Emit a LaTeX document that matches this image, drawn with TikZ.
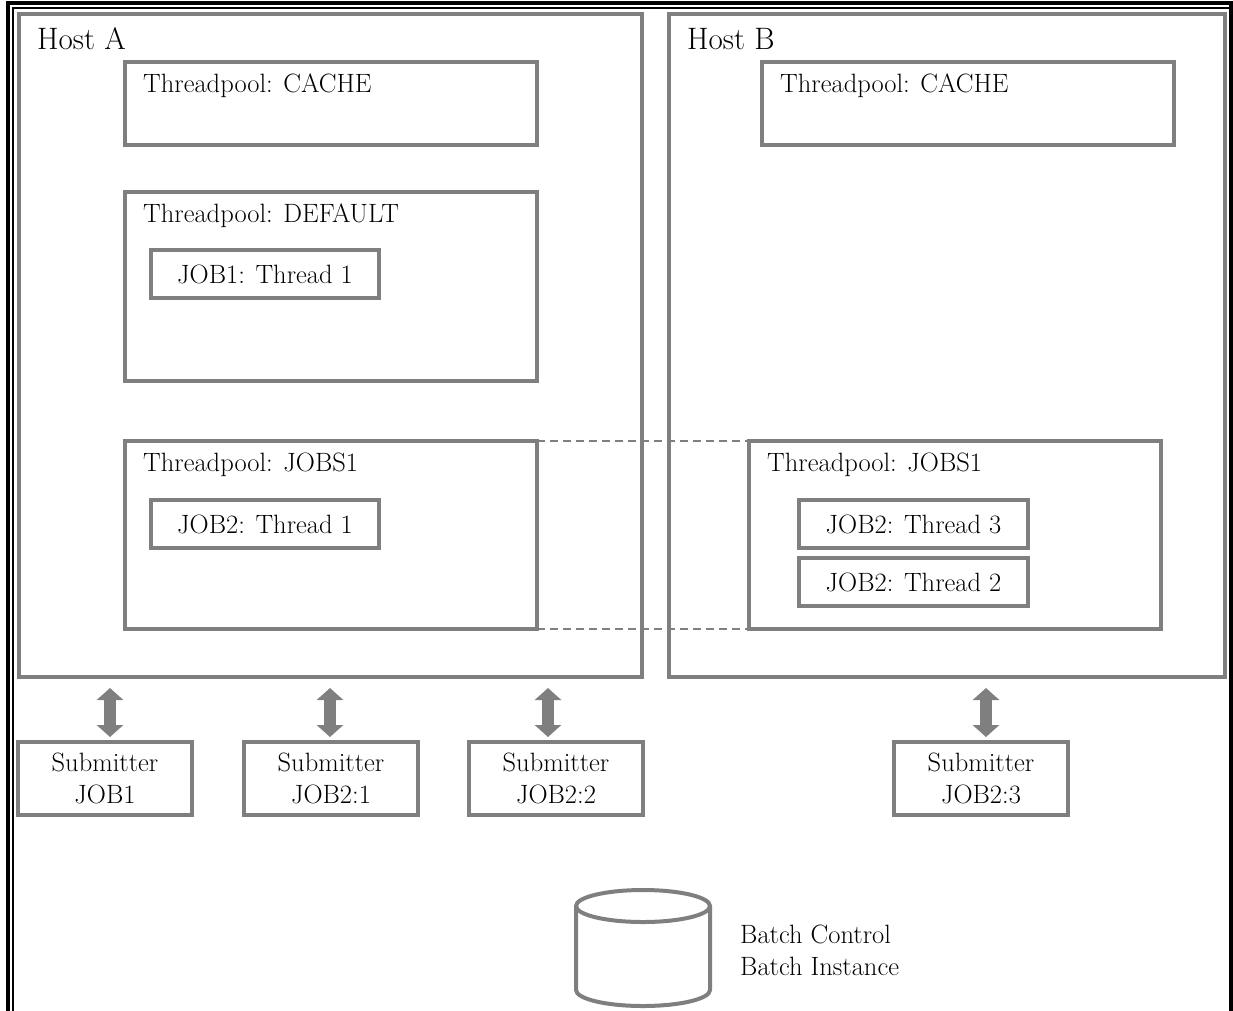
\documentclass[tikz,border=0pt]{standalone}
\usetikzlibrary{arrows.meta,fit,calc}
\definecolor{boxgray}{HTML}{7F7F7F}
\begin{document}
\begin{tikzpicture}[x=1pt,y=1pt,
  rect/.style={draw=boxgray, line width=4pt, inner sep=0pt, outer sep=0pt},
  txt/.style={font=\fontsize{26.5}{32}\selectfont, text=black, inner sep=0pt},
  hosttxt/.style={font=\fontsize{31}{36}\selectfont, text=black, inner sep=0pt},
  threadbox/.style={rect, txt, minimum height=48pt, minimum width=228pt},
  subbox/.style={rect, txt, align=center, minimum height=73pt, minimum width=174pt},
  dashline/.style={draw=boxgray, line width=1.5pt, dash pattern=on 8pt off 5pt},
  bigarrow/.style={draw=boxgray, line width=12pt,
    {Triangle[width=26pt,length=12pt]}-{Triangle[width=26pt,length=12pt]},
    shorten <=11pt, shorten >=5pt}
]
\useasboundingbox (0,0) rectangle (1233,-1010);
% page border
\draw[line width=4pt] (8,-1012) -- (8,-3) -- (1231,-3) -- (1231,-1012);
\draw[line width=1.5pt] (12.75,-1012) -- (12.75,-7.75) -- (1229,-7.75);

% hosts
\node[rect, fit={(18.5,-13.5)(641.5,-677)}] (hostA) {};
\node[rect, fit={(668.5,-13.5)(1225,-677)}] (hostB) {};
\node[hosttxt, anchor=base west] (hostAlbl) at (37,-49) {Host A};
\node[hosttxt, anchor=base west] (hostBlbl) at (687,-49) {Host B};

% threadpools
\node[rect, fit={(125,-62)(537,-145)}] (cacheA) {};
\node[rect, fit={(125,-192)(537,-381)}] (defA) {};
\node[rect, fit={(125,-441)(537,-629)}] (jobsA) {};
\node[rect, fit={(762,-62)(1174,-145)}] (cacheB) {};
\node[rect, fit={(749,-441)(1161,-629)}] (jobsB) {};

\node[txt, anchor=base west] (cacheAlbl) at ([shift={(18,-30)}]cacheA.north west) {Threadpool: CACHE};
\node[txt, anchor=base west] (defAlbl) at ([shift={(18,-30)}]defA.north west) {Threadpool: DEFAULT};
\node[txt, anchor=base west] (jobsAlbl) at ([shift={(18,-30)}]jobsA.north west) {Threadpool: JOBS1};
\node[txt, anchor=base west] (cacheBlbl) at ([shift={(18,-30)}]cacheB.north west) {Threadpool: CACHE};
\node[txt, anchor=base west] (jobsBlbl) at ([shift={(18,-30)}]jobsB.north west) {Threadpool: JOBS1};

% threads
\node[threadbox] (job1A) at (265,-274) {JOB1: Thread 1};
\node[threadbox] (job2A) at (265,-524) {JOB2: Thread 1};
\node[threadbox, minimum width=229pt] (job2t3) at (913.5,-524) {JOB2: Thread 3};
\node[threadbox, minimum width=229pt] (job2t2) at (913.5,-582) {JOB2: Thread 2};

% dashed links
\draw[dashline] (jobsA.north east) -- (jobsB.north west);
\draw[dashline] (jobsA.south east) -- (jobsB.south west);

% submitters
\node[subbox] (sub1) at (105,-778.5) {Submitter\\JOB1};
\node[subbox] (sub2) at (331,-778.5) {Submitter\\JOB2:1};
\node[subbox] (sub3) at (556,-778.5) {Submitter\\JOB2:2};
\node[subbox] (sub4) at (981,-778.5) {Submitter\\JOB2:3};

\draw[bigarrow] ([xshift=5pt]sub1.north |- hostA.south) -- ([xshift=5pt]sub1.north);
\draw[bigarrow] ([xshift=-1pt]sub2.north |- hostA.south) -- ([xshift=-1pt]sub2.north);
\draw[bigarrow] ([xshift=-8pt]sub3.north |- hostA.south) -- ([xshift=-8pt]sub3.north);
\draw[bigarrow] ([xshift=5pt]sub4.north |- hostB.south) -- ([xshift=5pt]sub4.north);

% database cylinder
\coordinate (db) at (643,-906);
\draw[draw=boxgray, line width=4pt] ([xshift=-67pt]db) -- ++(0,-84) arc[start angle=180, end angle=360, x radius=67, y radius=16] -- ([xshift=67pt]db);
\draw[draw=boxgray, line width=4pt] (db) ellipse [x radius=67, y radius=16];
\node[txt, align=left, anchor=west] (dblbl) at (740,-950) {Batch Control\\Batch Instance};
\end{tikzpicture}
\end{document}
